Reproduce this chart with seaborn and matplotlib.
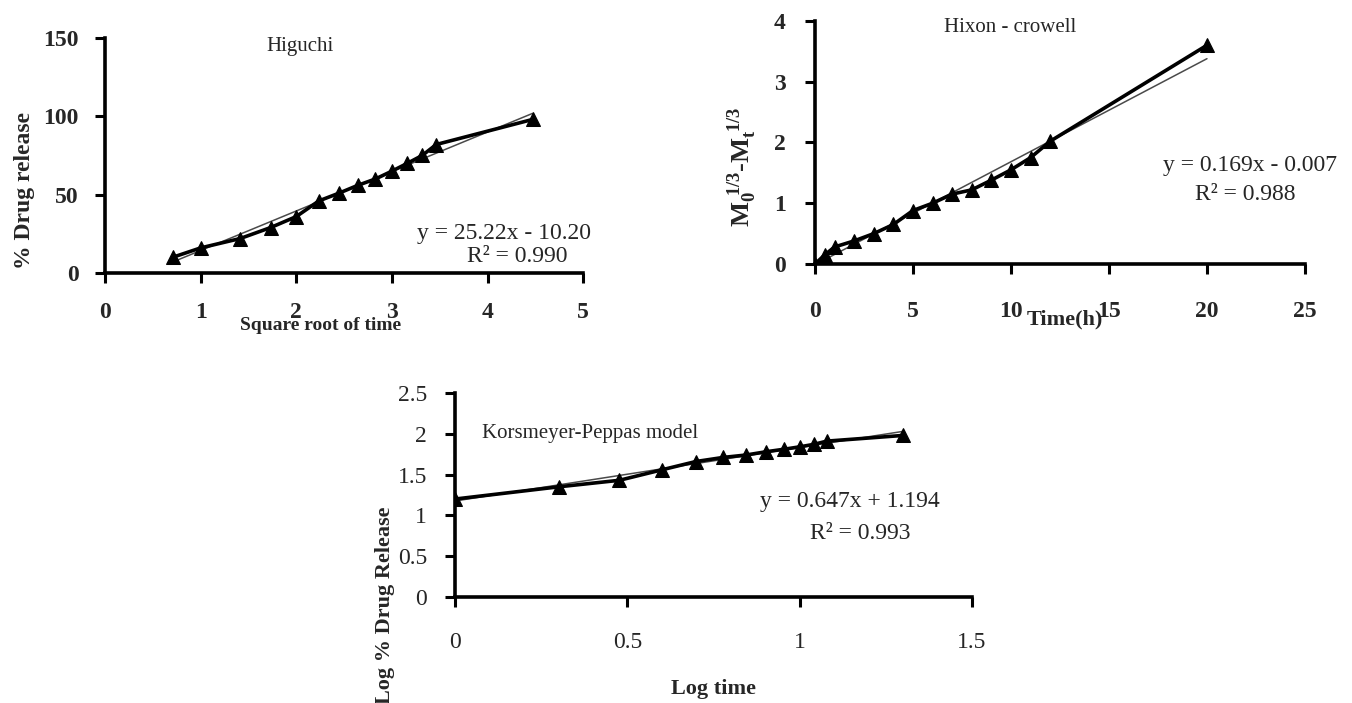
import matplotlib
matplotlib.use('Agg')
import matplotlib.pyplot as plt
import seaborn as sns
import pandas as pd

# Higuchi: square root of time vs % drug release
hig_x = [0.707, 1.0, 1.414, 1.732, 2.0, 2.236, 2.449, 2.646, 2.828, 3.0, 3.162, 3.317, 3.464, 4.472]
hig_y = [10, 16, 22, 29, 36, 46, 51, 56, 60, 65, 70, 75, 82, 98]

# Hixon-Crowell: time (h) vs cube root difference
hix_x = [0, 0.5, 1, 2, 3, 4, 5, 6, 7, 8, 9, 10, 11, 12, 20]
hix_y = [0, 0.15, 0.28, 0.38, 0.5, 0.65, 0.88, 1.0, 1.15, 1.22, 1.38, 1.55, 1.75, 2.02, 3.6]

# Korsmeyer-Peppas: log time vs log % drug release
kp_x = [0, 0.301, 0.477, 0.602, 0.699, 0.778, 0.845, 0.903, 0.954, 1.0, 1.041, 1.079, 1.301]
kp_y = [1.2, 1.35, 1.43, 1.56, 1.66, 1.71, 1.74, 1.78, 1.81, 1.84, 1.87, 1.91, 1.98]

sns.set_theme(style='white')
plt.rcParams['font.family'] = ['Liberation Serif', 'DejaVu Serif']
plt.rcParams['mathtext.fontset'] = 'custom'
plt.rcParams['mathtext.rm'] = 'Liberation Serif'
plt.rcParams['mathtext.bf'] = 'Liberation Serif:bold'

fig = plt.figure(figsize=(13.52, 7.03), dpi=100)
fig.patch.set_facecolor('white')


def draw_panel(rect, x, y, xlim, ylim, xticks, yticks, xtl, ytl, tick_bold=True, xpad=10, ypad=10):
    ax = fig.add_axes(rect)
    df = pd.DataFrame({'x': x, 'y': y})
    # thin linear trend line under the data line
    sns.regplot(data=df, x='x', y='y', ax=ax, scatter=False, ci=None,
                color='#4a4a4a', line_kws={'lw': 1.1})
    sns.lineplot(data=df, x='x', y='y', ax=ax, color='black', lw=2.6,
                 marker='^', markersize=10, markeredgecolor='black')
    ax.set_xlim(*xlim)
    ax.set_ylim(*ylim)
    ax.set_xticks(xticks)
    ax.set_yticks(yticks)
    w = 'bold' if tick_bold else 'normal'
    ax.set_xticklabels(xtl, fontsize=17, fontweight=w)
    ax.set_yticklabels(ytl, fontsize=17, fontweight=w)
    ax.set_xlabel('')
    ax.set_ylabel('')
    sns.despine(ax=ax)
    for s in ['left', 'bottom']:
        ax.spines[s].set_color('black')
        ax.spines[s].set_linewidth(2.6)
    ax.tick_params(axis='both', direction='out', length=7, width=2.2,
                   color='black', left=True, bottom=True)
    ax.tick_params(axis='x', pad=xpad)
    ax.tick_params(axis='y', pad=ypad)
    ax.set_facecolor('white')
    return ax


# Higuchi
ax1 = draw_panel([0.0777, 0.6117, 0.3536, 0.3343], hig_x, hig_y, (0, 5), (0, 150),
                 [0, 1, 2, 3, 4, 5], [0, 50, 100, 150],
                 ['0', '1', '2', '3', '4', '5'], ['0', '50', '100', '150'], xpad=14, ypad=12)
ax1.text(0.408, 0.962, 'Higuchi', transform=ax1.transAxes, ha='center', va='center', fontsize=15)
ax1.text(0.835, 0.17, 'y = 25.22x - 10.20', transform=ax1.transAxes, ha='center', va='center', fontsize=17)
ax1.text(0.862, 0.068, 'R² = 0.990', transform=ax1.transAxes, ha='center', va='center', fontsize=17)
ax1.text(0.45, -0.225, 'Square root of time', transform=ax1.transAxes, ha='center', va='center',
         fontsize=14, fontweight='bold')
ax1.text(-0.168, 0.35, '% Drug release', transform=ax1.transAxes, ha='center', va='center',
         rotation=90, fontsize=17, fontweight='bold')

# Hixon - crowell
ax2 = draw_panel([0.6028, 0.6245, 0.3624, 0.3457], hix_x, hix_y, (0, 25), (0, 4),
                 [0, 5, 10, 15, 20, 25], [0, 1, 2, 3, 4],
                 ['0', '5', '10', '15', '20', '25'], ['0', '1', '2', '3', '4'], xpad=20, ypad=14)
ax2.text(0.398, 0.971, 'Hixon - crowell', transform=ax2.transAxes, ha='center', va='center', fontsize=15)
ax2.text(0.888, 0.407, 'y = 0.169x - 0.007', transform=ax2.transAxes, ha='center', va='center', fontsize=17)
ax2.text(0.878, 0.284, 'R² = 0.988', transform=ax2.transAxes, ha='center', va='center', fontsize=17)
ax2.text(0.51, -0.23, 'Time(h)', transform=ax2.transAxes, ha='center', va='center',
         fontsize=16, fontweight='bold')
ax2.text(-0.148, 0.40, r'$\mathbf{M_0^{\ 1/3}}$-$\mathbf{M_t^{\ 1/3}}$', transform=ax2.transAxes,
         ha='center', va='center', rotation=90, fontsize=19, fontweight='bold')

# Korsmeyer-Peppas
ax3 = draw_panel([0.3365, 0.1508, 0.3824, 0.2902], kp_x, kp_y, (0, 1.5), (0, 2.5),
                 [0, 0.5, 1, 1.5], [0, 0.5, 1, 1.5, 2, 2.5],
                 ['0', '0.5', '1', '1.5'], ['0', '0.5', '1', '1.5', '2', '2.5'],
                 tick_bold=False, xpad=18, ypad=13)
ax3.text(0.261, 0.80, 'Korsmeyer-Peppas model', transform=ax3.transAxes, ha='center', va='center', fontsize=15)
ax3.text(0.764, 0.466, 'y = 0.647x + 1.194', transform=ax3.transAxes, ha='center', va='center', fontsize=17)
ax3.text(0.783, 0.309, 'R² = 0.993', transform=ax3.transAxes, ha='center', va='center', fontsize=17)
ax3.text(0.5, -0.45, 'Log time', transform=ax3.transAxes, ha='center', va='center',
         fontsize=16, fontweight='bold')
ax3.text(-0.135, -0.04, 'Log % Drug Release', transform=ax3.transAxes, ha='center', va='center',
         rotation=90, fontsize=16, fontweight='bold')

fig.savefig('out.png', dpi=100, facecolor='white')
